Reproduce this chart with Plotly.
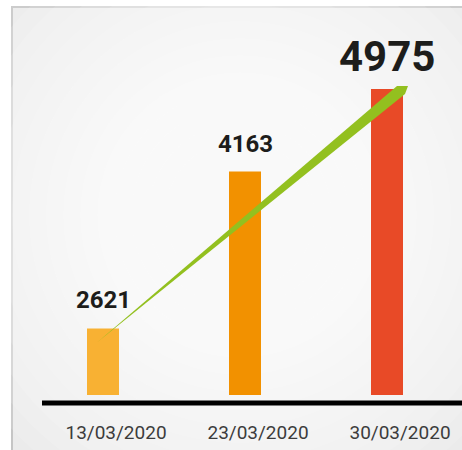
import plotly.graph_objects as go

# data
dates = ["13/03/2020", "23/03/2020", "30/03/2020"]
cases = [2621, 4163, 4975]
bar_colors = ["#F8B133", "#F29100", "#E84A27"]
label_sizes = [24, 24, 42]

# geometry in window pixels (body margin is removed in the html page)
W, H = 462, 450
PLOT_L, PLOT_R, PLOT_T, PLOT_B = 32, 458, 20, 395
ML, MR, MT, MB = PLOT_L, W - PLOT_R, PLOT_T, H - PLOT_B
PW, PH = PLOT_R - PLOT_L, PLOT_B - PLOT_T
STEP = 142  # pixels between categories
X0 = -0.5
X1 = X0 + PW / STEP
Y0, Y1 = 1967, 5652


def px_x(x):
    return PLOT_L + (x - X0) * STEP


def px_y(v):
    return PLOT_T + (Y1 - v) / (Y1 - Y0) * PH


def data_x(px):
    return X0 + (px - PLOT_L) / STEP


def data_y(py):
    return Y1 - (py - PLOT_T) / PH * (Y1 - Y0)


def paper_x(px):
    return (px - PLOT_L) / PW


def paper_y(py):
    return (PLOT_B - py) / PH


xs = list(range(len(dates)))

fig = go.Figure()

fig.add_trace(go.Bar(
    x=xs, y=cases, width=32 / STEP,
    marker=dict(color=bar_colors, line=dict(width=0)),
    hoverinfo="skip",
))

# tapered green arrow from first bar to last bar
bx0, by0 = px_x(xs[0]), px_y(cases[0])
bx2, by2 = px_x(xs[-1]), px_y(cases[-1])
arrow_px = [
    (bx0 - 6, by0 + 14),   # tail
    (bx2 + 18, by2 + 5),   # lower end of shaft
    (bx2 + 21, by2 - 3),   # tip
    (bx2 + 10, by2 - 3),   # upper end of shaft
    (bx0 - 6, by0 + 14),
]
fig.add_trace(go.Scatter(
    x=[data_x(p[0]) for p in arrow_px],
    y=[data_y(p[1]) for p in arrow_px],
    mode="lines", fill="toself", fillcolor="#93C01F",
    line=dict(width=0, color="#93C01F"), hoverinfo="skip",
))

# value labels
for x, v, s in zip(xs, cases, label_sizes):
    fig.add_annotation(
        x=x, y=v, text=f"<b>{v}</b>", showarrow=False,
        yanchor="bottom", yshift=12 if s < 30 else 6,
        font=dict(family="Roboto", size=s, color="#1d1d1b"),
    )

# background: frame with soft radial gradient
shapes = [dict(
    type="rect", xref="paper", yref="paper", layer="below",
    x0=paper_x(12), x1=paper_x(480), y0=paper_y(470), y1=paper_y(7),
    fillcolor="#e8e8e8", line=dict(color="#bdbdbd", width=2),
)]
cx, cy = 240, 215
n = 16
for i in range(n):
    r = 330 - i * 17
    shapes.append(dict(
        type="circle", xref="paper", yref="paper", layer="below",
        x0=paper_x(cx - r), x1=paper_x(cx + r),
        y0=paper_y(cy + r), y1=paper_y(cy - r),
        fillcolor="white", opacity=0.13, line=dict(width=0),
    ))
# black baseline
shapes.append(dict(
    type="line", xref="paper", yref="paper",
    x0=paper_x(42), x1=paper_x(470), y0=paper_y(403), y1=paper_y(403),
    line=dict(color="black", width=5),
))

fig.update_layout(
    width=W, height=H,
    margin=dict(l=ML, r=MR, t=MT, b=MB),
    paper_bgcolor="white", plot_bgcolor="rgba(0,0,0,0)",
    showlegend=False, shapes=shapes,
    xaxis=dict(
        range=[X0, X1], tickvals=xs, ticktext=dates,
        showgrid=False, zeroline=False, showline=False,
        ticks="", ticklabelstandoff=24, ticklabelshift=13,
        tickfont=dict(family="Roboto", size=19, color="#3c3c3c"),
        fixedrange=True,
    ),
    yaxis=dict(range=[Y0, Y1], visible=False, fixedrange=True),
)

fig.write_html(
    "out.html",
    config={"displayModeBar": False},
    post_script="document.body.style.margin='0';document.body.style.overflow='hidden';",
)
